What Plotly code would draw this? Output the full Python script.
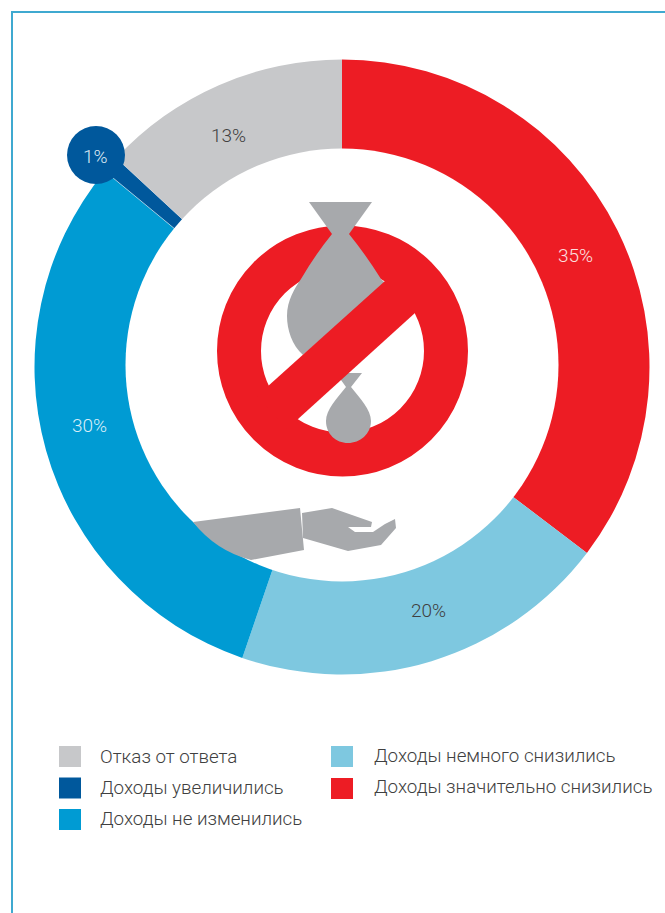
import plotly.graph_objects as go

categories = ["Доходы значительно снизились", "Доходы немного снизились", "Доходы не изменились",
              "Доходы увеличились", "Отказ от ответа"]
printed_labels = ["35%", "20%", "30%", "1%", "13%"]
slice_shares = [35.3, 19.9, 30.7, 0.9, 13.1]
slice_colors = ["#ED1C24", "#7EC8E0", "#009BD3", "#00589C", "#C7C8CA"]
label_colors = ["#FBE0E0", "#404040", "#D8EEF8", "#DCE9F3", "#404040"]
legend_col1 = ["Отказ от ответа", "Доходы увеличились", "Доходы не изменились"]
legend_col2 = ["Доходы немного снизились", "Доходы значительно снизились"]

W, H = 665, 913
FONT = "Roboto"
GREY = "#A7A9AC"
RED = "#ED1C24"
BORDER = "#3FA9D0"

fig = go.Figure()
fig.add_trace(go.Scatter(x=[0], y=[0], mode="markers", marker=dict(opacity=0), hoverinfo="skip", showlegend=False))
fig.add_trace(go.Pie(
    labels=categories, values=slice_shares, sort=False, direction="clockwise", rotation=0,
    hole=0.68, textinfo="none",
    marker=dict(colors=slice_colors, line=dict(color="white", width=[0, 0, 0, 0.5, 0])),
    domain=dict(x=[34.5 / W, 649.5 / W], y=[1 - 674.5 / H, 1 - 59.5 / H]),
    showlegend=False,
))

shapes = []
def path(d, color):
    shapes.append(dict(type="path", path=d, xref="x", yref="y", fillcolor=color, line=dict(width=0), layer="above"))

# the white centre sits slightly above the ring's own centre
shapes.append(dict(type="circle", xref="x", yref="y", x0=125.5, x1=558.5, y0=148.5, y1=581.5, fillcolor="white", line=dict(width=0), layer="above"))
# frame
shapes.append(dict(type="line", xref="x", yref="y", x0=12, x1=12, y0=11, y1=H, line=dict(color=BORDER, width=2), layer="above"))
shapes.append(dict(type="line", xref="x", yref="y", x0=11, x1=W, y0=12, y1=12, line=dict(color=BORDER, width=2), layer="above"))
# 1% bubble
shapes.append(dict(type="circle", xref="x", yref="y", x0=67, x1=125, y0=126, y1=184, fillcolor=slice_colors[3], line=dict(width=0), layer="above"))
# prohibition ring
shapes.append(dict(type="circle", xref="x", yref="y", x0=239, x1=446, y0=247.5, y1=454.5, fillcolor="rgba(0,0,0,0)", line=dict(color=RED, width=44), layer="above"))
# large bag
path("M309,202 L372,202 L349,234 Q366,255 381,279 L385,283 L303,355 C292,345 287,330 287,316 C287,300 295,288 301,279 Q315,255 332,234 Z", GREY)
# small bag
path("M336,373 L362,373 L351,387 C360,398 371,410 371,421 C371,434 360,443 348,443 C336,443 326,434 326,421 C326,410 337,398 346,387 Z", GREY)
# bar
path("M257,396 L395,272 L426,303 L287,429 Z", RED)
# sleeve and hand
path("M193,522 L300,508 L304,550 L251,560 Q216,551 193,522 Z", GREY)
path("M302,513 L332,508 L372,522 L371,527 L348,527 L355,532 L373,532 L385,524 L395,519 L396,528 L381,545 L348,551 L303,538 Z", GREY)

def label(text, x, y, color):
    return dict(x=x, y=y, text=text, showarrow=False, xref="x", yref="y",
                font=dict(family=FONT, size=19, color=color, weight=300))

label_anchor_x = [575, 428.5, 89.5, 95.5, 228]
label_anchor_y = [255, 610.5, 425.5, 156, 135.5]
ann = [label(t, x, y, c) for t, x, y, c in zip(printed_labels, label_anchor_x, label_anchor_y, label_colors)]

def legend_entry(name, color, sq_x, y_top, text_x, text_y):
    shapes.append(dict(type="rect", xref="x", yref="y", x0=sq_x, x1=sq_x + 22, y0=y_top, y1=y_top + 21,
                       fillcolor=color, line=dict(width=0), layer="above"))
    ann.append(dict(x=text_x, y=text_y, text=name, showarrow=False, xref="x", yref="y", xanchor="left",
                    font=dict(family=FONT, size=18.75, color="#404040", weight=300)))

color_of = dict(zip(categories, slice_colors))
for i, name in enumerate(legend_col1):
    legend_entry(name, color_of[name], 59, 746 + i * 31.5, 98, 757 + i * 31)
for i, name in enumerate(legend_col2):
    legend_entry(name, color_of[name], 331, 746 + i * 32, 372, 756 + i * 31)

fig.update_layout(
    width=W, height=H, autosize=False, margin=dict(l=0, r=0, t=0, b=0),
    paper_bgcolor="white", plot_bgcolor="rgba(0,0,0,0)",
    xaxis=dict(range=[0, W], visible=False, domain=[0, 1], fixedrange=True),
    yaxis=dict(range=[H, 0], visible=False, domain=[0, 1], fixedrange=True),
    shapes=shapes, annotations=ann,
)
fig.write_html("out.html", config=dict(displayModeBar=False), post_script="document.body.style.margin='0';")
